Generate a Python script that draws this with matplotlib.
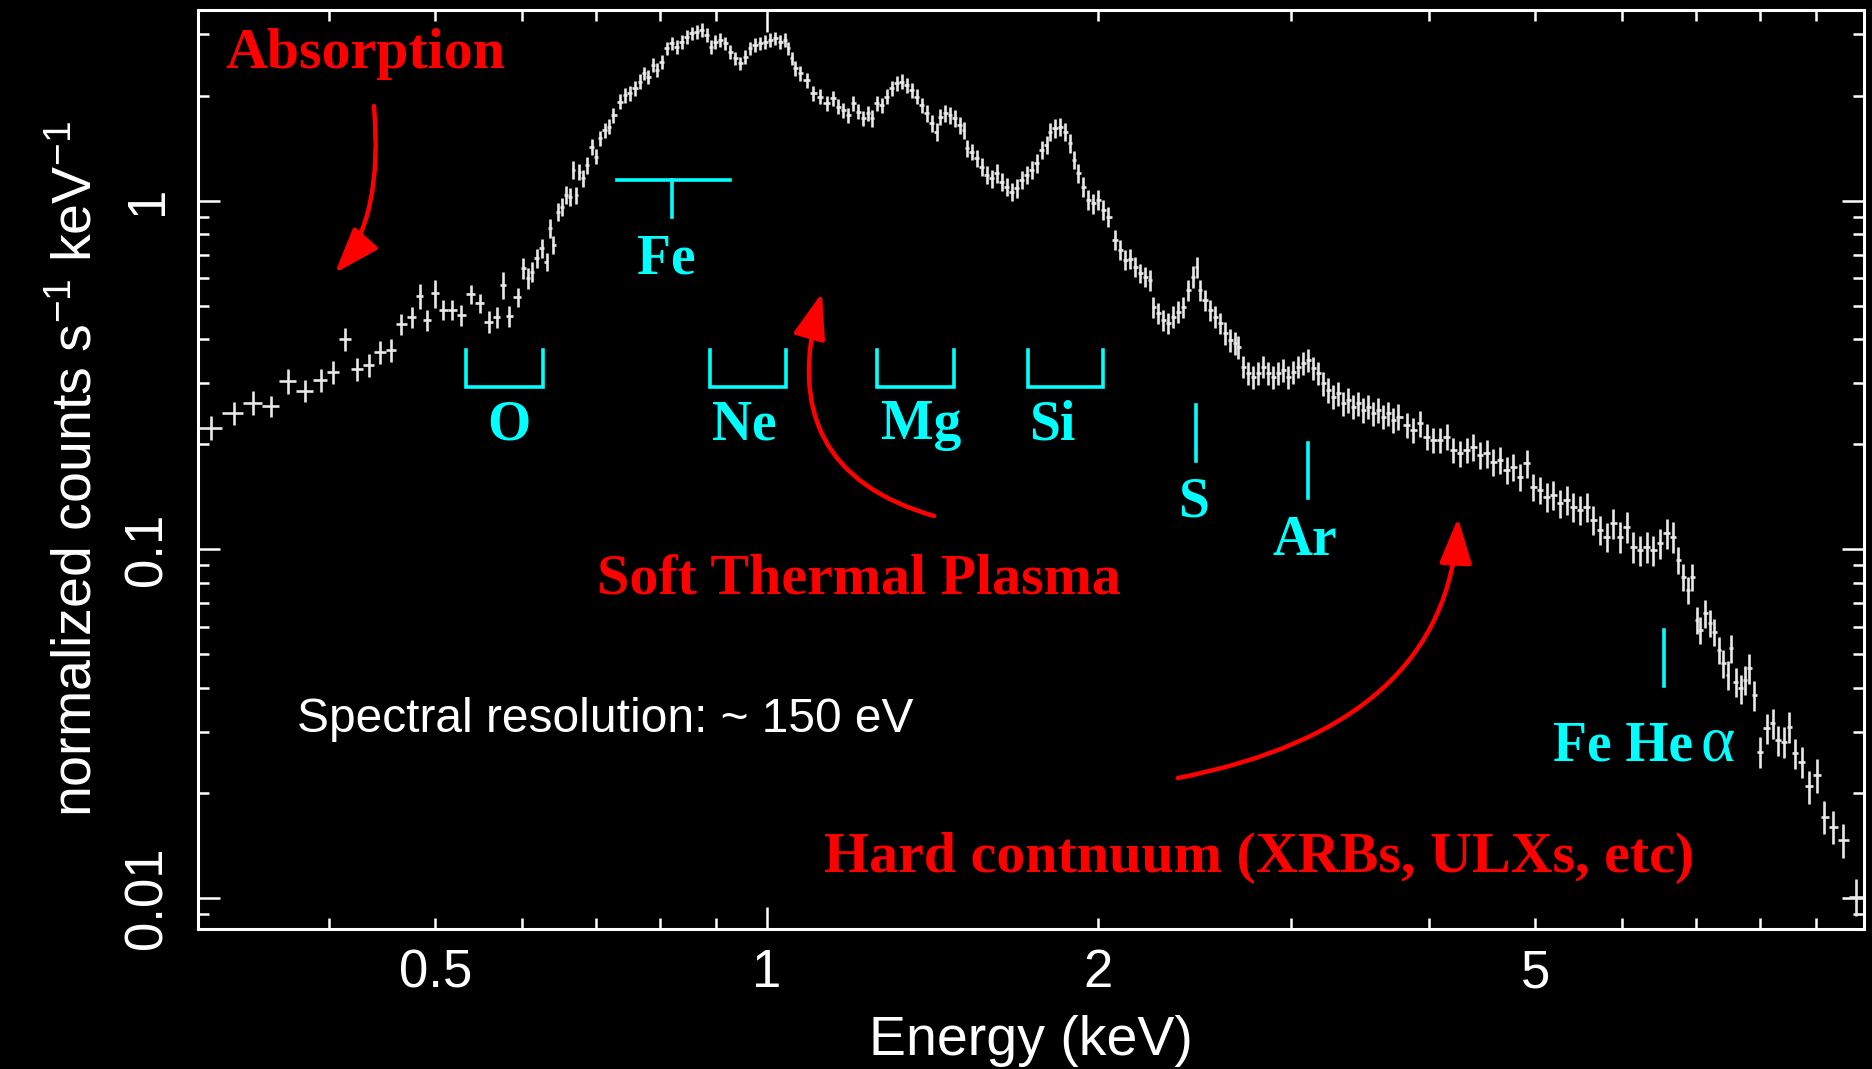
import numpy as np
import matplotlib
matplotlib.use("Agg")
import matplotlib.pyplot as plt
from matplotlib.patches import FancyArrowPatch
from matplotlib.ticker import FixedLocator, FuncFormatter, NullFormatter

plt.rcParams['font.family'] = ['Liberation Sans', 'DejaVu Sans']
plt.rcParams['mathtext.fontset'] = 'custom'
plt.rcParams['mathtext.rm'] = 'Liberation Sans'
plt.rcParams['mathtext.it'] = 'Liberation Sans:italic'
plt.rcParams['mathtext.bf'] = 'Liberation Sans:bold'

# ---------------------------------------------------------------- spectrum
# bin centre energy (keV)
energy = [
    0.3124, 0.3280, 0.3413, 0.3542, 0.3673, 0.3805, 0.3939, 0.4036, 0.4136, 0.4246,
    0.4348, 0.4452, 0.4558, 0.4656, 0.4761, 0.4838, 0.4916, 0.4993, 0.5081, 0.5177,
    0.5279, 0.5384, 0.5486, 0.5590, 0.5692, 0.5760, 0.5829, 0.5944,
    0.6010, 0.6074, 0.6117, 0.6181, 0.6247, 0.6313, 0.6356, 0.6400, 0.6468, 0.6514,
    0.6573, 0.6628, 0.6674, 0.6712, 0.6759, 0.6815, 0.6872, 0.6935, 0.6998, 0.7057,
    0.7131, 0.7196, 0.7256, 0.7359, 0.7436, 0.7514, 0.7593, 0.7674, 0.7738, 0.7808,
    0.7880, 0.7946, 0.8030, 0.8115, 0.8200, 0.8286, 0.8374, 0.8462, 0.8551, 0.8641,
    0.8732, 0.8824, 0.8898, 0.8978, 0.9073, 0.9168, 0.9265, 0.9362, 0.9461, 0.9560,
    0.9660, 0.9762, 0.9865, 0.9969, 1.0073, 1.0180, 1.0287, 1.0395, 1.0467, 1.0542,
    1.0615, 1.0726,
    1.0878, 1.1029, 1.1184, 1.1344, 1.1501, 1.1622, 1.1745, 1.1868, 1.1993, 1.2119,
    1.2246, 1.2375, 1.2463, 1.2594, 1.2727, 1.2860, 1.2996, 1.3133, 1.3271, 1.3410,
    1.3552, 1.3694, 1.3839, 1.3984, 1.4131, 1.4280, 1.4379, 1.4530, 1.4683, 1.4837,
    1.4993, 1.5119, 1.5205, 1.5365, 1.5527, 1.5690, 1.5855, 1.6022, 1.6191, 1.6361,
    1.6533, 1.6707, 1.6883, 1.7061, 1.7240, 1.7421, 1.7605, 1.7790, 1.7977, 1.8101,
    1.8292, 1.8485, 1.8679, 1.8876, 1.9035, 1.9206, 1.9409, 1.9613, 1.9820, 2.0028,
    2.0239, 2.0452,
    2.0741, 2.0959, 2.1180, 2.1402, 2.1627, 2.1855, 2.2085, 2.2317, 2.2472, 2.2708,
    2.2947, 2.3188, 2.3432, 2.3679, 2.3928, 2.4179, 2.4434, 2.4609, 2.4779, 2.5040,
    2.5304, 2.5570, 2.5839, 2.6111, 2.6386, 2.6664, 2.6849, 2.7131, 2.7416, 2.7705,
    2.7996, 2.8291, 2.8589, 2.8890, 2.9194, 2.9501, 2.9812, 3.0126, 3.0443, 3.0763,
    3.1087, 3.1414, 3.1745, 3.2079, 3.2417, 3.2758, 3.3103, 3.3451, 3.3803, 3.4159,
    3.4519, 3.4882, 3.5249, 3.5620, 3.5995, 3.6373, 3.6756, 3.7143, 3.7534,
    3.8194, 3.8726, 3.9273, 3.9828, 4.0381, 4.0951, 4.1529, 4.2108, 4.2703, 4.3306,
    4.3909, 4.4529, 4.5157, 4.5785, 4.6430, 4.7085, 4.7741, 4.8417, 4.9099, 4.9783,
    5.0485, 5.1198, 5.1911, 5.2643, 5.3386, 5.4129, 5.4893, 5.5668, 5.6441, 5.7238,
    5.8045, 5.8852, 5.9682, 6.0534, 6.1376, 6.2243, 6.3122, 6.4002, 6.4908, 6.5823,
    6.6742,
    6.7445, 6.8155, 6.8865, 6.9445, 7.0088, 7.0574, 7.1316, 7.2068, 7.2673, 7.3484,
    7.4102, 7.4787, 7.5305, 7.6097, 7.6851, 7.7546, 7.8246, 7.9020, 8.0018, 8.1148,
    8.2173, 8.3142, 8.4140, 8.5079, 8.6099, 8.7314, 8.8716, 9.0103, 9.1549, 9.3290,
    9.5143, 9.7825,
]

# normalized counts s^-1 keV^-1
counts = [
    0.2232, 0.2455, 0.2633, 0.2580, 0.3039, 0.2850, 0.3059, 0.3230, 0.4002, 0.3288,
    0.3383, 0.3687, 0.3728, 0.4427, 0.4627, 0.5326, 0.4546, 0.5422, 0.4856, 0.4856,
    0.4698, 0.5386, 0.5075, 0.4495, 0.4627, 0.5728, 0.4667, 0.5281,
    0.6395, 0.5987, 0.6253, 0.6831, 0.7298, 0.6680, 0.8330, 0.7459, 0.9294, 0.9605,
    1.038, 1.026, 1.224, 1.038, 1.210, 1.158, 1.265, 1.428, 1.336, 1.509,
    1.594, 1.629, 1.760, 1.921, 2.008, 2.031, 2.099, 2.193, 2.318, 2.266,
    2.448, 2.369, 2.502, 2.734, 2.826, 2.763, 2.856, 2.951, 3.018, 3.050,
    3.084, 2.985, 2.763, 2.856, 2.888, 2.826, 2.673, 2.559, 2.476, 2.586,
    2.734, 2.794, 2.826, 2.856, 2.888, 2.920, 2.856, 2.888, 2.734, 2.559,
    2.395, 2.318,
    2.218, 2.031, 1.986, 1.901, 1.965, 1.859, 1.819, 1.760, 1.901, 1.799,
    1.722, 1.780, 1.722, 1.901, 1.880, 1.986, 2.099, 2.169, 2.193, 2.145,
    2.076, 1.986, 1.880, 1.780, 1.666, 1.576, 1.740, 1.780, 1.760, 1.722,
    1.647, 1.594, 1.413, 1.381, 1.322, 1.251, 1.184, 1.158, 1.198, 1.133,
    1.096, 1.061, 1.085, 1.146, 1.184, 1.224, 1.279, 1.397, 1.443, 1.576,
    1.612, 1.629, 1.576, 1.460, 1.307, 1.198, 1.096, 1.004, 0.982, 1.004,
    0.940, 0.899,
    0.771, 0.722, 0.676, 0.680, 0.646, 0.619, 0.605, 0.592, 0.496, 0.475,
    0.455, 0.445, 0.465, 0.480, 0.496, 0.554, 0.605, 0.646, 0.554, 0.519,
    0.486, 0.465, 0.445, 0.4164, 0.3983, 0.3898, 0.381, 0.334, 0.3197, 0.3126,
    0.3197, 0.334, 0.320, 0.3126, 0.3197, 0.3267, 0.3126, 0.323, 0.334, 0.3415,
    0.349, 0.3304, 0.3197, 0.2992, 0.2862, 0.2739, 0.2801, 0.2622, 0.2680, 0.2564,
    0.2622, 0.2509, 0.2564, 0.2455, 0.2509, 0.2400, 0.2455, 0.2348, 0.2400,
    0.2272, 0.2198, 0.2297, 0.2103, 0.2058, 0.2058, 0.2103, 0.1927, 0.1885, 0.1927,
    0.1969, 0.1864, 0.1885, 0.1783, 0.1803, 0.1688, 0.1725, 0.1615, 0.1764, 0.1512,
    0.1480, 0.1415, 0.1430, 0.1355, 0.1385, 0.1325, 0.1296, 0.1325, 0.1213, 0.1136,
    0.1087, 0.1187, 0.1087, 0.1161, 0.1017, 0.0995, 0.1017, 0.0995, 0.1040, 0.1111,
    0.1087,
    0.0932, 0.0834, 0.0764, 0.0834, 0.0627, 0.0587, 0.0655, 0.0614, 0.0580, 0.0514,
    0.0471, 0.0436, 0.0520, 0.0417, 0.0399, 0.0422, 0.0456, 0.0382, 0.0263, 0.0307,
    0.0317, 0.0284, 0.0281, 0.0310, 0.0260, 0.0246, 0.0209, 0.0225, 0.0171, 0.0160,
    0.01467, 0.01009,
]

# fractional 1-sigma uncertainty of each bin
rel_err = [
    0.080, 0.075, 0.080, 0.070, 0.080, 0.070, 0.075, 0.075, 0.075, 0.075,
    0.075, 0.075, 0.075, 0.070, 0.070, 0.085, 0.070, 0.090, 0.065, 0.065,
    0.070, 0.065, 0.065, 0.075, 0.070, 0.090, 0.070, 0.060,
    0.070, 0.070, 0.065, 0.065, 0.065, 0.060, 0.060, 0.060, 0.060, 0.060,
    0.060, 0.060, 0.060, 0.055, 0.055, 0.055, 0.055, 0.055, 0.050, 0.050,
    0.050, 0.050, 0.050, 0.050, 0.050, 0.050, 0.050, 0.050, 0.045, 0.045,
    0.045, 0.045, 0.045, 0.045, 0.045, 0.045, 0.045, 0.045, 0.045, 0.045,
    0.045, 0.045, 0.045, 0.045, 0.045, 0.045, 0.045, 0.045, 0.045, 0.045,
    0.045, 0.045, 0.045, 0.045, 0.045, 0.045, 0.045, 0.045, 0.045, 0.045,
    0.050, 0.050,
    0.050, 0.050, 0.050, 0.050, 0.050, 0.050, 0.050, 0.050, 0.050, 0.050,
    0.050, 0.050, 0.055, 0.050, 0.050, 0.050, 0.050, 0.050, 0.050, 0.050,
    0.050, 0.050, 0.050, 0.055, 0.055, 0.060, 0.055, 0.055, 0.055, 0.055,
    0.055, 0.055, 0.055, 0.055, 0.055, 0.060, 0.060, 0.060, 0.060, 0.060,
    0.060, 0.060, 0.060, 0.060, 0.060, 0.060, 0.060, 0.060, 0.060, 0.060,
    0.060, 0.060, 0.060, 0.060, 0.060, 0.065, 0.065, 0.065, 0.065, 0.065,
    0.065, 0.065,
    0.065, 0.065, 0.065, 0.065, 0.065, 0.065, 0.065, 0.070, 0.070, 0.070,
    0.070, 0.070, 0.070, 0.070, 0.070, 0.070, 0.070, 0.070, 0.070, 0.070,
    0.070, 0.070, 0.070, 0.075, 0.075, 0.075, 0.075, 0.075, 0.075, 0.075,
    0.075, 0.075, 0.075, 0.075, 0.075, 0.075, 0.075, 0.075, 0.075, 0.075,
    0.075, 0.075, 0.075, 0.080, 0.080, 0.080, 0.080, 0.080, 0.080, 0.080,
    0.080, 0.080, 0.080, 0.080, 0.080, 0.080, 0.080, 0.085, 0.085,
    0.085, 0.085, 0.085, 0.085, 0.085, 0.085, 0.085, 0.085, 0.085, 0.085,
    0.090, 0.090, 0.090, 0.090, 0.090, 0.090, 0.090, 0.090, 0.090, 0.090,
    0.090, 0.095, 0.095, 0.095, 0.095, 0.095, 0.095, 0.095, 0.095, 0.095,
    0.095, 0.100, 0.100, 0.100, 0.100, 0.100, 0.100, 0.100, 0.100, 0.100,
    0.100,
    0.090, 0.090, 0.090, 0.090, 0.090, 0.090, 0.090, 0.090, 0.090, 0.090,
    0.090, 0.095, 0.095, 0.095, 0.095, 0.095, 0.100, 0.100, 0.100, 0.100,
    0.100, 0.100, 0.100, 0.100, 0.100, 0.100, 0.110, 0.110, 0.110, 0.110,
    0.110, 0.120,
]

# ---------------------------------------------------------------- axes ticks
x_tick_values = [0.5, 1, 2, 5]
x_tick_labels = ['0.5', '1', '2', '5']
y_tick_values = [0.01, 0.1, 1]
y_tick_labels = ['0.01', '0.1', '1']

# ---------------------------------------------------------------- line ids
# element bands: bracket from lo to hi keV
band_names = ['O', 'Ne', 'Mg', 'Si']
band_lo = [0.5330, 0.8881, 1.2615, 1.7270]
band_hi = [0.6262, 1.0425, 1.4807, 2.0239]
band_label_e = [0.5834, 0.9540, 1.3833, 1.8179]
# single lines: energy, marker top/bottom, label position
line_names = ['S', 'Ar']
line_e = [2.4572, 3.1087]
line_top = [0.2593, 0.2021]
line_bot = [0.1795, 0.1401]
line_label_e = [2.4448, 3.0873]
line_label_y = [0.1241, 0.0963]

RED = '#ff0000'
CYAN = '#00ffff'
WHITE = '#ffffff'

fig = plt.figure(figsize=(18.72, 10.69), dpi=100, facecolor='black')
ax = fig.add_axes([198 / 1872, 1 - 929 / 1069, 1666 / 1872, 919 / 1069])
ax.set_facecolor('black')
ax.set_xscale('log')
ax.set_yscale('log')
ax.set_xlim(0.3042, 9.948)
ax.set_ylim(0.00815, 3.52)

# data with energy-bin widths and count errors
e = np.array(energy)
c = np.array(counts)
mid = np.sqrt(e[:-1] * e[1:])
lo = np.concatenate([[e[0] ** 2 / mid[0]], mid])
hi = np.concatenate([mid, [e[-1] ** 2 / mid[-1]]])
ax.errorbar(e, c, xerr=[e - lo, hi - e], yerr=c * np.array(rel_err),
            fmt='none', ecolor='#e8e8e8', elinewidth=1.9, capsize=0, zorder=3)

# spines and ticks
for s in ax.spines.values():
    s.set_color(WHITE)
    s.set_linewidth(2.2)

ax.xaxis.set_major_locator(FixedLocator([1, 10]))
ax.xaxis.set_minor_locator(FixedLocator([0.4, 0.5, 0.6, 0.7, 0.8, 0.9,
                                         2, 3, 4, 5, 6, 7, 8, 9]))
xlab = dict(zip(x_tick_values, x_tick_labels))
fmt_x = FuncFormatter(lambda v, p: xlab.get(round(v, 3), ''))
ax.xaxis.set_major_formatter(fmt_x)
ax.xaxis.set_minor_formatter(fmt_x)

ax.yaxis.set_major_locator(FixedLocator(y_tick_values))
ax.yaxis.set_minor_locator(FixedLocator([k * 10.0 ** d for d in (-3, -2, -1, 0)
                                         for k in range(2, 10)]))
ylab = dict(zip(y_tick_values, y_tick_labels))
ax.yaxis.set_major_formatter(FuncFormatter(lambda v, p: ylab.get(round(v, 4), '')))
ax.yaxis.set_minor_formatter(NullFormatter())

ax.tick_params(which='both', direction='in', top=True, right=True,
               colors=WHITE, labelcolor=WHITE, width=1.8, labelsize=38)
ax.tick_params(which='major', length=16)
ax.tick_params(which='minor', length=8)
ax.tick_params(axis='x', which='both', pad=14)
ax.tick_params(axis='y', which='both', pad=18, labelrotation=90)
for lab in ax.get_yticklabels():
    lab.set_va('center')

ax.set_xlabel('Energy (keV)', color=WHITE, fontsize=40, labelpad=12)
ax.set_ylabel(r'normalized counts s$^{-1}$ keV$^{-1}$', color=WHITE,
              fontsize=40, labelpad=14)

# line identifications
serif = dict(family='Liberation Serif', fontweight='bold', fontsize=40)
clw = 2.6
for name, a, b, xe in zip(band_names, band_lo, band_hi, band_label_e):
    ax.plot([a, a, b, b], [0.3736, 0.2914, 0.2914, 0.3736], color=CYAN,
            lw=clw, solid_joinstyle='miter')
    ax.text(xe, 0.2065, name, color=CYAN, ha='center', va='baseline', **serif)

ax.plot([0.7307, 0.9257], [1.1435, 1.1435], color=CYAN, lw=clw)
ax.plot([0.8205, 0.8205], [1.1435, 0.8956], color=CYAN, lw=clw)
ax.text(0.8102, 0.6188, 'Fe', color=CYAN, ha='center', va='baseline', **serif)

for name, xe, t, bt, lx, ly in zip(line_names, line_e, line_top, line_bot,
                                   line_label_e, line_label_y):
    ax.plot([xe, xe], [t, bt], color=CYAN, lw=clw)
    ax.text(lx, ly, name, color=CYAN, ha='center', va='baseline', **serif)

ax.plot([6.5515, 6.5515], [0.0587, 0.0405], color=CYAN, lw=clw)
ax.text(5.188, 0.02487, 'Fe He', color=CYAN, ha='left', va='baseline', **serif)
ax.text(7.06, 0.02487, '\u03b1', color=CYAN, ha='left', va='baseline',
        family='Liberation Serif', fontsize=47)

# component annotations
red_font = dict(family='Liberation Serif', fontweight='bold', fontsize=41.8,
                color=RED, ha='left', va='baseline', transform=ax.transAxes)
ax.text(0.0162, 0.9366, 'Absorption', **red_font)
ax.text(0.2395, 0.3656, 'Soft Thermal Plasma', **red_font)
ax.text(0.3758, 0.0624, 'Hard contnuum (XRBs, ULXs, etc)', **red_font)
ax.text(0.0594, 0.2144, 'Spectral resolution: ~ 150 eV', color=WHITE,
        fontsize=34.5, ha='left', va='baseline', transform=ax.transAxes)


def curved_arrow(tail, head, angle_a, angle_b):
    arrow = FancyArrowPatch(
        tail, head, transform=ax.transAxes,
        connectionstyle=f'angle3,angleA={angle_a},angleB={angle_b}',
        arrowstyle='-|>,head_length=28,head_width=10', mutation_scale=1,
        lw=3.2, color=RED, shrinkA=0, shrinkB=0, zorder=5)
    ax.add_patch(arrow)


curved_arrow((0.1056, 0.8955), (0.0822, 0.7138), -85, 48.5)
curved_arrow((0.4418, 0.4494), (0.3745, 0.6921), 164, 74)
curved_arrow((0.5882, 0.1643), (0.7563, 0.4472), 11, 87)

fig.savefig('out.png', dpi=100, facecolor='black')
